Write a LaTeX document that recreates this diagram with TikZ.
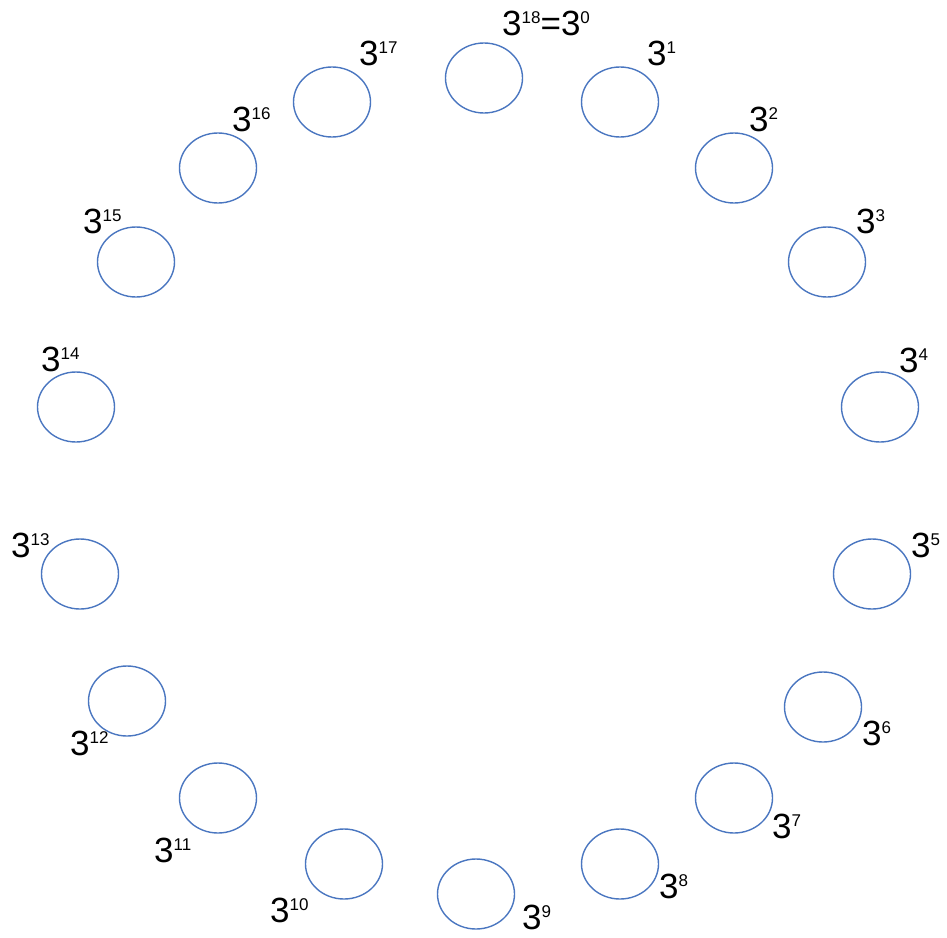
\documentclass[tikz,border=0pt]{standalone}
\usepackage{fontspec}
\setmainfont{Liberation Sans}
\usetikzlibrary{shapes.geometric}
\definecolor{ringblue}{RGB}{74,118,192}
\newcommand\pw[1]{3\raisebox{11.5pt}{\fontsize{17}{17}\selectfont #1}}
\tikzset{
  ringell/.style={draw=ringblue, line width=1.4pt, ellipse, minimum width=77pt, minimum height=70pt, inner sep=0pt},
  powlbl/.style={anchor=base west, inner sep=0pt, font=\fontsize{35}{35}\selectfont}
}
\begin{document}
\begin{tikzpicture}[x=1pt,y=-1pt]
\useasboundingbox (0,0) rectangle (947,937);
% ellipses
\node[ringell] (e0) at (484,78) {};
\node[ringell] (e1) at (620,102) {};
\node[ringell] (e2) at (734,168) {};
\node[ringell] (e3) at (827,262) {};
\node[ringell] (e4) at (880,407) {};
\node[ringell] (e5) at (872,574) {};
\node[ringell] (e6) at (823,707) {};
\node[ringell] (e7) at (734,798) {};
\node[ringell] (e8) at (620,864) {};
\node[ringell] (e9) at (476,894) {};
\node[ringell] (e10) at (344,864) {};
\node[ringell] (e11) at (218,798) {};
\node[ringell] (e12) at (127,701) {};
\node[ringell] (e13) at (80,574) {};
\node[ringell] (e14) at (76,407) {};
\node[ringell] (e15) at (136,262) {};
\node[ringell] (e16) at (218,168) {};
\node[ringell] (e17) at (332,102) {};
% labels
\node[powlbl] (l0) at (502,35) {\pw{18}=\pw{0}};
\node[powlbl] (l1) at (647,65) {\pw{1}};
\node[powlbl] (l2) at (749,131) {\pw{2}};
\node[powlbl] (l3) at (856,233) {\pw{3}};
\node[powlbl] (l4) at (899,372) {\pw{4}};
\node[powlbl] (l5) at (911,557) {\pw{5}};
\node[powlbl] (l6) at (862,745) {\pw{6}};
\node[powlbl] (l7) at (772,838) {\pw{7}};
\node[powlbl] (l8) at (659,898) {\pw{8}};
\node[powlbl] (l9) at (522,929) {\pw{9}};
\node[powlbl] (l10) at (270,922) {\pw{10}};
\node[powlbl] (l11) at (154,862) {\pw{11}};
\node[powlbl] (l12) at (70,755) {\pw{12}};
\node[powlbl] (l13) at (11,557) {\pw{13}};
\node[powlbl] (l14) at (41,371) {\pw{14}};
\node[powlbl] (l15) at (83,233) {\pw{15}};
\node[powlbl] (l16) at (232,131) {\pw{16}};
\node[powlbl] (l17) at (359,65) {\pw{17}};
\end{tikzpicture}
\end{document}
